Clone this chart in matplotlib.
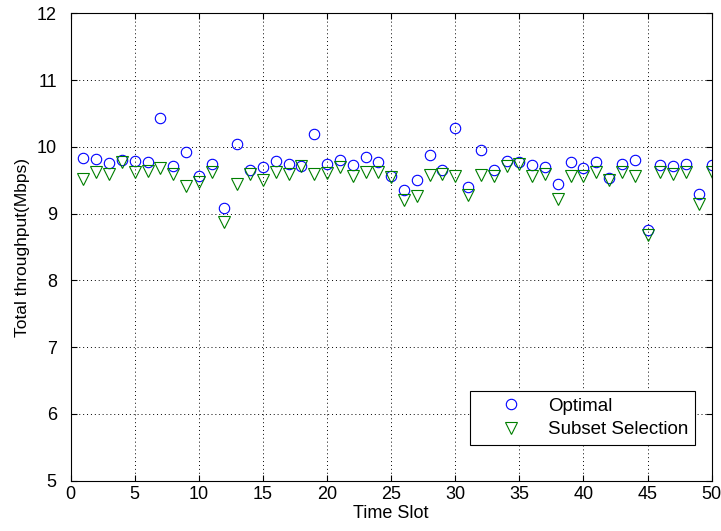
import matplotlib
matplotlib.use('Agg')
import matplotlib.pyplot as plt
import numpy as np

plt.rcParams['font.family'] = ['Liberation Sans', 'DejaVu Sans']

time_slot = list(range(1, 51))
optimal = [9.83, 9.82, 9.76, 9.80, 9.79, 9.78, 10.43, 9.72, 9.92, 9.56,
           9.74, 9.09, 10.04, 9.65, 9.70, 9.79, 9.74, 9.72, 10.20, 9.75,
           9.81, 9.73, 9.85, 9.78, 9.56, 9.36, 9.50, 9.88, 9.65, 10.29,
           9.40, 9.95, 9.66, 9.79, 9.78, 9.73, 9.70, 9.44, 9.78, 9.68,
           9.78, 9.53, 9.74, 9.81, 8.75, 9.73, 9.71, 9.75, 9.29, 9.73]
subset = [9.52, 9.62, 9.60, 9.78, 9.63, 9.64, 9.69, 9.60, 9.42, 9.48,
          9.63, 8.87, 9.44, 9.60, 9.50, 9.63, 9.59, 9.72, 9.59, 9.61,
          9.70, 9.56, 9.62, 9.63, 9.55, 9.20, 9.26, 9.58, 9.59, 9.56,
          9.28, 9.58, 9.57, 9.72, 9.74, 9.57, 9.59, 9.22, 9.56, 9.56,
          9.63, 9.50, 9.63, 9.57, 8.68, 9.63, 9.60, 9.63, 9.15, 9.63]

fig = plt.figure(figsize=(7.21, 5.31), dpi=100)
ax = fig.add_axes([0.098, 0.0947, 0.889, 0.880])

ax.plot(time_slot, optimal, linestyle='none', marker='o', markersize=7.5,
        markerfacecolor='none', markeredgecolor='#0000ff', markeredgewidth=0.8,
        label='Optimal')
ax.plot(time_slot, subset, linestyle='none', marker='v', markersize=8,
        markerfacecolor='none', markeredgecolor='#007f00', markeredgewidth=0.8,
        label='Subset Selection')

ax.set_xlim(0, 50)
ax.set_ylim(5, 12)
ax.set_xticks(np.arange(0, 51, 5))
ax.set_yticks(np.arange(5, 13, 1))
ax.grid(True, linestyle=(0, (1, 3)), color='black', linewidth=0.7)
ax.tick_params(direction='in', top=True, right=True, labelsize=13, length=4)
ax.tick_params(axis='y', pad=10)
ax.tick_params(axis='x', pad=4)
for s in ax.spines.values():
    s.set_linewidth(0.8)

ax.set_xlabel('Time Slot', fontsize=13, labelpad=1)
ax.set_ylabel('Total throughput(Mbps)', fontsize=12.5, labelpad=5)

leg = ax.legend(loc='lower right', bbox_to_anchor=(0.974, 0.0764), fontsize=13.5,
                fancybox=False, framealpha=1, edgecolor='black',
                borderpad=0.35, borderaxespad=0, handlelength=3.7,
                handletextpad=0.1, labelspacing=0.35)
leg.get_frame().set_linewidth(0.8)

fig.savefig('out.png', dpi=100)
